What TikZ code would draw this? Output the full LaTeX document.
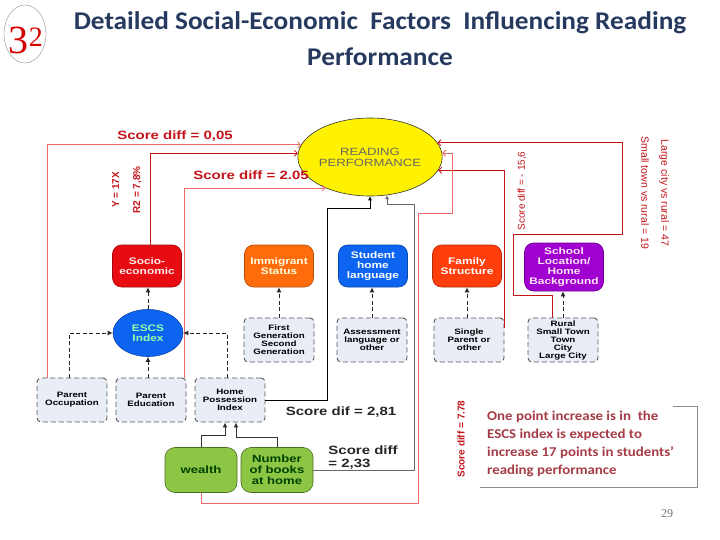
\documentclass[tikz,border=0pt]{standalone}
\usepackage{fontspec}
\setmainfont{Carlito}
\newfontfamily\titlefont[FakeStretch=1.07]{Carlito}
\newfontfamily\notefont[FakeStretch=1.1]{Carlito}
\newfontfamily\diagfont[FakeStretch=1.25]{Liberation Sans}
\newfontfamily\narrowfont{Liberation Sans}
\newfontfamily\numfont{Liberation Serif}
\usepackage{xcolor}
\definecolor{titleblue}{RGB}{38,58,96}
\definecolor{linered}{RGB}{195,20,25}
\definecolor{palered}{RGB}{236,105,105}
\definecolor{notered}{RGB}{165,60,70}
\definecolor{socred}{RGB}{232,12,18}
\definecolor{immorange}{RGB}{255,108,12}
\definecolor{langblue}{RGB}{12,100,240}
\definecolor{famred}{RGB}{255,62,12}
\definecolor{schoolpurple}{RGB}{160,0,208}
\definecolor{subfill}{RGB}{232,237,246}
\definecolor{booksgreen}{RGB}{140,198,68}
\definecolor{escsgreen}{RGB}{150,255,170}
\usetikzlibrary{arrows.meta, shapes.geometric}

\begin{document}
\begin{tikzpicture}[
    x=1pt, y=-1pt,
    topbox/.style={
        rectangle,
        rounded corners=9pt,
        draw=#1!70!black,
        fill=#1,
        line width=0.6pt,
        minimum width=69pt,
        minimum height=42pt,
        align=center,
        inner sep=1pt,
        font=\diagfont\bfseries\fontsize{9.5}{10}\selectfont
    },
    subbox/.style={
        rectangle,
        rounded corners=4pt,
        draw=black!65,
        dash pattern=on 5pt off 3pt,
        line width=0.9pt,
        fill=subfill,
        minimum width=70pt,
        minimum height=44pt,
        align=center,
        inner sep=1pt,
        font=\diagfont\bfseries\fontsize{7.8}{8}\selectfont
    },
    greenbox/.style={
        rectangle,
        rounded corners=10pt,
        draw=booksgreen!55!black,
        fill=booksgreen,
        line width=0.6pt,
        minimum width=72pt,
        minimum height=45pt,
        align=center,
        text=green!25!black,
        font=\diagfont\bfseries\fontsize{10.5}{11}\selectfont
    },
    redlabel/.style={text=linered, inner sep=0pt, font=\diagfont\bfseries\fontsize{12}{13}\selectfont},
    blacklabel/.style={text=black!85, inner sep=0pt, align=left, font=\diagfont\bfseries\fontsize{12}{13}\selectfont},
    rotlabel/.style={text=linered, inner sep=0pt, align=center, font=\narrowfont\fontsize{10}{11}\selectfont},
    redline/.style={draw=linered, line width=0.8pt},
    paleline/.style={draw=palered, line width=0.8pt},
    redarr/.style={-{Straight Barb[length=3pt,width=6pt]}},
    blkarr/.style={-{Latex[length=4pt,width=4pt]}, line width=0.7pt},
    dasharr/.style={-{Latex[length=5pt,width=5pt]}, draw=black!85, line width=1pt, dash pattern=on 4pt off 2.5pt},
    solidarr/.style={-{Latex[length=5pt,width=5pt]}, draw=black!80, line width=0.9pt}
]
\useasboundingbox (0,0) rectangle (720,540);

% title
\node[ellipse, draw=black!45, line width=0.4pt, minimum width=42pt, minimum height=58pt] (badge) at (25,34) {};
\node[text=red!85!black, inner sep=0pt, font=\numfont\fontsize{40}{40}\selectfont] (badgenum) at (26,40) {\raisebox{-7pt}{3}\scalebox{0.7}{2}};
\node[text=titleblue, align=center, inner sep=0pt, font=\titlefont\bfseries\fontsize{25.5}{36}\selectfont] (title) at (380,39)
    {Detailed Social-Economic~ Factors~ Influencing Reading\\Performance};

% outcome
\node[ellipse, draw=black!80, fill=yellow, line width=0.6pt, minimum width=126pt, minimum height=78pt,
      align=center, inner sep=0pt, text=black!60, font=\diagfont\fontsize{10.5}{11}\selectfont] (rp) at (370,157) {READING\\PERFORMANCE};

% factors
\node[topbox=socred, text=red!8] (socio) at (147,266) {Socio-\\economic};
\node[topbox=immorange, text=yellow!12] (immig) at (279,266) {Immigrant\\Status};
\node[topbox=langblue, text=white] (lang) at (373,266) {Student\\home\\language};
\node[topbox=famred, text=white] (family) at (467,266) {Family\\Structure};
\node[topbox=schoolpurple, text=magenta!10, minimum width=79pt, minimum height=48pt] (school) at (564,267) {School\\Location/\\Home\\Background};

% indicators
\node[ellipse, draw=langblue!70!black, fill=langblue, line width=0.6pt, minimum width=70pt, minimum height=47pt,
      align=center, inner sep=0pt, text=escsgreen, font=\diagfont\bfseries\fontsize{9.5}{10.5}\selectfont] (escs) at (148,333) {ESCS\\Index};
\node[subbox] (gen) at (279,340) {First\\Generation\\Second\\Generation};
\node[subbox] (assess) at (372,340) {Assessment\\language or\\other};
\node[subbox] (single) at (469,340) {Single\\Parent or\\other};
\node[subbox] (rural) at (563,340) {Rural\\Small Town\\Town\\City\\Large City};

\node[subbox] (occup) at (72,400) {Parent\\Occupation};
\node[subbox] (educ) at (151,400) {Parent\\Education};
\node[subbox] (possess) at (230,400) {Home\\Possession\\Index};

\node[greenbox] (wealth) at (201,470) {wealth};
\node[greenbox] (books) at (277,470) {Number\\of books\\at home};

% score differences
\draw[paleline, redarr] ([xshift=11pt]occup.north west) |- (rp.170);
\draw[redline, redarr] ([xshift=3pt]socio.north) |- (rp.177);
\draw[paleline, redarr] ([xshift=-2pt]educ.north east) |- (rp.215);
\draw[redline, redarr] ([xshift=-11pt]rural.north) |- (513,295) |- (622,234) |- (rp.12);
\draw[redline, redarr] ([yshift=-10pt]single.north east) |- (rp.-11);
\draw[paleline, redarr] (wealth.south) |- (418,503) |- (452,213) |- (rp.3);
\draw[blkarr, draw=black] (possess.east) -| (327,208) -| (rp.south);
\draw[blkarr, draw=black!60] (books.east) -| (414,204) -| (rp.294);

\node[redlabel] (lab005) at (175,136) {Score diff = 0,05};
\node[redlabel] (lab205) at (251,175) {Score diff = 2.05};
\node[rotlabel, rotate=90, font=\narrowfont\bfseries\fontsize{10}{21}\selectfont] (labfit) at (127,190) {Y = 17X\\R2 = 7,8\%};
\node[rotlabel, rotate=90] (lab156) at (522,191) {Score diff = - 15,6};
\node[rotlabel, rotate=-90, font=\narrowfont\fontsize{10.5}{20}\selectfont] (labcity) at (655,193) {Large city vs rural = 47\\Small town vs rural = 19};
\node[rotlabel, rotate=90, font=\narrowfont\bfseries\fontsize{10}{11}\selectfont] (lab778) at (461,439) {Score diff = 7.78};
\node[blacklabel] (lab281) at (341,412) {Score dif = 2,81};
\node[blacklabel] (lab233) at (363,458) {Score diff\\= 2,33};

% measurement links
\draw[dasharr] (escs.north) -- (escs.north |- socio.south);
\draw[dasharr] (escs.south |- educ.north) -- (escs.south);
\draw[dasharr] ([xshift=-3pt]occup.north) |- (escs.west);
\draw[dasharr] ([xshift=-3pt]possess.north) |- (escs.east);
\draw[dasharr] (gen.north) -- (immig.south);
\draw[dasharr] (assess.north) -- (assess.north |- lang.south);
\draw[dasharr] (family.south |- single.north) -- (family.south);
\draw[dasharr] (rural.north) -- (rural.north |- school.south);
\draw[solidarr] (wealth.north) |- ++(24,-12) -- ([xshift=-5pt]possess.south);
\draw[solidarr] (books.north) |- ++(-41,-10) -- ([xshift=6pt]possess.south);

% note
\node[anchor=north west, align=left, inner sep=0pt, text=notered, font=\notefont\bfseries\fontsize{13.5}{18}\selectfont] (note) at (487,411)
    {One point increase is in~ the\\ESCS index is expected to\\increase 17 points in students’\\reading performance};
\draw[draw=black!45, line width=0.6pt] (673,406) -- (697,406) -- (697,487) -- (480,487);

\node[text=black!55, inner sep=0pt, font=\numfont\fontsize{12}{12}\selectfont] (pagenum) at (667,514) {29};
\end{tikzpicture}
\end{document}
